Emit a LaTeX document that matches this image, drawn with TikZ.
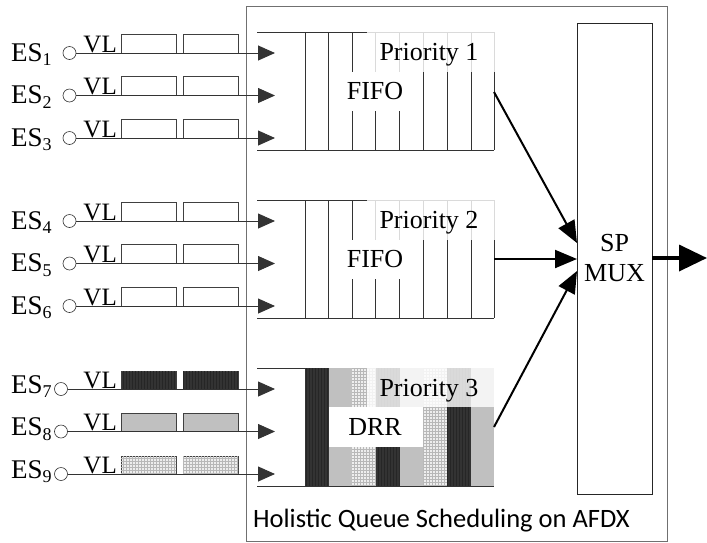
\documentclass[tikz,border=0pt]{standalone}
\usepackage{fontspec}
\setmainfont{Liberation Serif}
\newfontfamily\calib{Carlito}
\usetikzlibrary{arrows.meta,patterns}
\definecolor{dk}{HTML}{333333}
\definecolor{gr}{HTML}{C0C0C0}
\definecolor{lt}{HTML}{EEEEEE}
\definecolor{framecol}{HTML}{707070}
\newcommand\esl[1]{ES\raisebox{-4.5pt}{\fontsize{18}{18}\selectfont #1}}
\begin{document}
\begin{tikzpicture}[x=1pt,y=-1pt,
  lab/.style={font=\fontsize{26}{31}\selectfont, inner sep=0pt},
  esnode/.style={circle, draw=black!80, line width=0.6pt, minimum size=13pt, inner sep=0pt},
  inarrow/.style={draw=black!80, line width=0.9pt, -{Triangle[length=17pt,width=15pt]}},
  qarrow/.style={draw=black, line width=2pt, -{Triangle[length=22pt,width=18pt]}},
  outarrow/.style={draw=black, line width=3.6pt, -{Triangle[length=28pt,width=26pt]}},
  pkt/.style={draw=black!75, line width=0.7pt},
  darkfill/.style={fill=dk, postaction={pattern=vertical lines, pattern color=black!85}},
  grayfill/.style={fill=gr},
  gridfill/.style={fill=lt, postaction={pattern=grid, pattern color=black!28}},
  qline/.style={draw=black!80, line width=0.8pt},
  prioBg/.style={fill=white, fill opacity=0.82},
]
\useasboundingbox (0,0) rectangle (707,542);
% outer frame
\draw[framecol, line width=1pt] (246.5,6) rectangle (667,541);
% SP MUX
\node[draw=black!85, line width=0.8pt, minimum width=75pt, minimum height=471pt, inner sep=0pt,
  align=center, font=\fontsize{26}{30}\selectfont] (mux) at (614.5,258.5) {SP\\MUX};
% queues 1 and 2 (FIFO)
\foreach \g/\p in {0/1,1/2}{
  \pgfmathsetmacro\tp{32+168*\g}
  \draw[qline] (257,\tp) -- (494,\tp);
  \draw[qline] (257,\tp+118) -- (494,\tp+118);
  \foreach \x in {305,328.5,352,375.5,399,423,447,471,494}
    \draw[qline] (\x,\tp) -- (\x,\tp+118);
  \fill[prioBg] (367,\tp-1) rectangle (495.5,\tp+40);
  \fill[white] (349.5,\tp+40) rectangle (421.5,\tp+79);
  \node[lab, anchor=base] (prio\p) at (429,\tp+28) {Priority \p};
  \node[lab, anchor=base] (fifo\p) at (375,\tp+67) {FIFO};
}
% queue 3 (DRR)
\foreach \xa/\xb/\st in {305/329/darkfill,329/352/grayfill,352/376/gridfill,376/399.5/darkfill,
  399.5/423/grayfill,423/447/gridfill,447/471/darkfill,471/494/grayfill}
  \path[\st] (\xa,368) rectangle (\xb,486);
\draw[qline] (257,368.5) -- (305,368.5);
\draw[qline] (257,486) -- (494,486);
\fill[prioBg] (367,367) rectangle (495,407);
\fill[white] (329,407) rectangle (423,447);
\node[lab, anchor=base] (prio3) at (429,396) {Priority 3};
\node[lab, anchor=base] (drr) at (375,435) {DRR};
% inputs
\foreach \g in {0,1,2}{
  \foreach \k/\ry in {1/53,2/95.5,3/138}{
    \pgfmathtruncatemacro\n{3*\g+\k}
    \pgfmathsetmacro\yy{\ry+168*\g}
    \ifnum\g<2
      \node[esnode] (c\n) at (69.5,\yy) {};
      \node[lab, anchor=base west, font=\fontsize{27}{31}\selectfont] (es\n) at (11,\yy+8) {\esl{\n}};
    \else
      \node[esnode] (c\n) at (61,\yy) {};
      \node[lab, anchor=base west, font=\fontsize{27}{31}\selectfont] (es\n) at (11,\yy+4) {\esl{\n}};
    \fi
    \node[lab, anchor=base east, font=\fontsize{25}{30}\selectfont] (vl\n) at (117,\yy-1) {VL};
    \ifnum\g<2
      \path[pkt, fill=white] (121,\yy-19) rectangle (176,\yy);
      \path[pkt, fill=white] (183,\yy-19) rectangle (238,\yy);
    \else\ifnum\k=1
      \path[pkt, darkfill] (121,\yy-18) rectangle (176,\yy);
      \path[pkt, darkfill] (183,\yy-18) rectangle (238,\yy);
    \else\ifnum\k=2
      \path[pkt, grayfill] (121,\yy-18) rectangle (176,\yy);
      \path[pkt, grayfill] (183,\yy-18) rectangle (238,\yy);
    \else
      \path[pkt, gridfill] (121,\yy-18) rectangle (176,\yy);
      \path[pkt, gridfill] (183,\yy-18) rectangle (238,\yy);
    \fi\fi\fi
    \coordinate (a\n) at (275,\yy);
    \draw[inarrow] (c\n) -- (a\n);
  }
}
% queue to mux
\coordinate (q1o) at (494,92);
\coordinate (q2o) at (494,259);
\coordinate (q3o) at (494,427);
\coordinate (m1) at (577,243);
\coordinate (m2) at (577,259);
\coordinate (m3) at (577,271);
\draw[qarrow] (q1o) -- (m1);
\draw[qarrow] (q2o) -- (m2);
\draw[qarrow] (q3o) -- (m3);
% output
\coordinate (out) at (707,258);
\draw[outarrow] (mux.east |- out) -- (out);
% caption
\node[anchor=base west, inner sep=0pt, font=\calib\fontsize{26.5}{30}\selectfont] (cap) at (253,527)
  {Holistic Queue Scheduling on AFDX};
\end{tikzpicture}
\end{document}
